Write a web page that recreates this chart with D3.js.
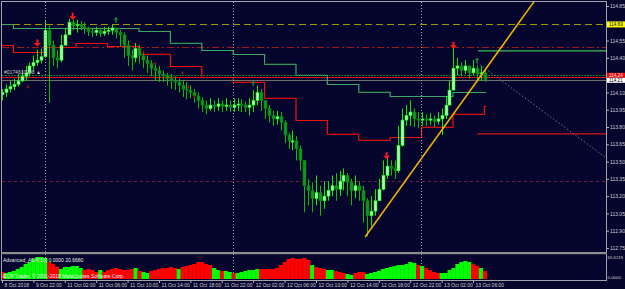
<!DOCTYPE html>
<html>
<head>
<meta charset="utf-8">
<script src="https://cdn.jsdelivr.net/npm/d3@7"></script>
<style>
  html, body { margin: 0; padding: 0; background: #05052e; }
  svg { display: block; }
  text { font-family: "Liberation Sans", Arial, sans-serif; }
</style>
</head>
<body>
<div id="app"></div>
<script>
const W = 625, H = 289

// ---- data ----
const timeLabels = ['8 Oct 2018', '9 Oct 22:00', '11 Oct 02:00', '11 Oct 06:00', '11 Oct 10:00', '11 Oct 14:00',
  '11 Oct 18:00', '11 Oct 22:00', '12 Oct 02:00', '12 Oct 06:00', '12 Oct 10:00', '12 Oct 14:00',
  '12 Oct 18:00', '12 Oct 22:00', '13 Oct 02:00', '13 Oct 06:00']
const timeTickBars = [0, 8, 16, 24, 32, 40, 48, 56, 64, 72, 80, 88, 96, 104, 112, 120]
const priceTicks = [114.85, 114.55, 114.40, 114.10, 113.95, 113.80, 113.65, 113.50, 113.35, 113.20, 113.05, 112.90, 112.75]
const daySeparators = [10.85, 58.85, 106.85]

const firstOpen = 114.08
const closes = [114.10,114.13,114.15,114.17,114.20,114.24,114.27,114.33,114.36,114.38,
  114.41,114.64,114.51,114.40,114.38,114.51,114.60,114.71,114.68,114.69,
  114.67,114.66,114.63,114.62,114.64,114.61,114.63,114.64,114.66,114.62,
  114.60,114.51,114.42,114.40,114.48,114.42,114.38,114.35,114.31,114.29,
  114.26,114.25,114.22,114.20,114.19,114.16,114.13,114.12,114.10,114.07,
  114.03,113.99,113.96,113.99,113.98,114.00,113.98,113.99,113.97,113.99,
  114.00,113.99,113.97,113.99,114.03,114.10,114.03,113.96,113.90,113.87,
  113.89,113.84,113.73,113.68,113.68,113.61,113.51,113.29,113.25,113.18,
  113.23,113.16,113.20,113.25,113.29,113.26,113.33,113.38,113.32,113.25,
  113.29,113.25,113.16,113.03,113.07,113.16,113.26,113.38,113.46,113.44,
  113.42,113.64,113.86,113.90,113.93,113.87,113.86,113.87,113.86,113.87,
  113.85,113.87,113.90,113.99,114.12,114.31,114.33,114.29,114.33,114.27,
  114.31,114.26,114.27,114.21]
const highs = [114.13,114.17,114.20,114.22,114.26,114.29,114.33,114.36,114.42,114.47,
  114.48,114.73,114.68,114.55,114.47,114.60,114.66,114.74,114.73,114.73,
  114.72,114.71,114.67,114.66,114.67,114.66,114.67,114.67,114.69,114.66,
  114.64,114.62,114.55,114.47,114.53,114.51,114.45,114.42,114.38,114.35,
  114.33,114.29,114.27,114.26,114.24,114.22,114.20,114.19,114.16,114.13,
  114.10,114.06,114.03,114.05,114.03,114.05,114.03,114.05,114.03,114.05,
  114.05,114.04,114.02,114.05,114.12,114.16,114.13,114.03,113.99,113.94,
  113.94,113.93,113.86,113.75,113.77,113.72,113.64,113.51,113.35,113.32,
  113.38,113.29,113.33,113.33,113.38,113.40,113.42,113.44,113.40,113.35,
  113.38,113.33,113.29,113.18,113.20,113.26,113.35,113.51,113.53,113.51,
  113.51,113.81,113.96,113.99,114.03,113.96,113.93,113.93,113.91,113.92,
  113.90,113.93,113.96,114.07,114.20,114.49,114.40,114.36,114.38,114.33,
  114.38,114.34,114.33,114.31]
const lows = [114.03,114.06,114.10,114.12,114.15,114.19,114.20,114.24,114.29,114.33,
  114.35,114.40,114.01,114.33,114.31,114.36,114.51,114.60,114.64,114.62,
  114.64,114.61,114.59,114.58,114.59,114.58,114.59,114.60,114.60,114.57,
  114.50,114.40,114.33,114.29,114.36,114.35,114.31,114.27,114.24,114.20,
  114.19,114.19,114.16,114.13,114.12,114.10,114.06,114.04,114.05,114.01,
  113.96,113.93,113.91,113.94,113.93,113.94,113.93,113.94,113.93,113.93,
  113.94,113.93,113.93,113.90,113.93,113.99,113.94,113.87,113.84,113.81,
  113.82,113.77,113.66,113.61,113.60,113.51,113.42,113.06,113.12,113.06,
  113.12,113.03,113.09,113.16,113.20,113.16,113.20,113.25,113.20,113.12,
  113.18,113.16,112.97,112.85,112.94,113.03,113.16,113.25,113.35,113.38,
  113.35,113.40,113.63,113.81,113.81,113.80,113.79,113.81,113.81,113.82,
  113.80,113.82,113.73,113.87,113.99,114.12,114.25,114.24,114.26,114.22,
  114.25,114.19,114.20,114.19]

// H4 step indicator blocks
const blockStarts = [-1, 2.9, 10.9, 18.9, 26.9, 34.9, 42.9, 50.9, 58.9, 66.9, 74.9, 82.9, 90.9, 98.9, 106.9, 114.9, 122.9]
const blockLast = 123.4
const greenSteps = [114.69, 114.66, 114.66, 114.66, 114.66, 114.63, 114.53, 114.47, 114.43, 114.35, 114.25, 114.17, 114.10, 114.07, 114.07, 114.10, 114.10]
const redSteps = [114.51, 114.45, 114.49, 114.53, 114.50, 114.43, 114.33, 114.23, 114.19, 114.05, 113.86, 113.74, 113.69, 113.71, 113.80, 113.91, 113.98]
const greenDarkBlocks = [6, 9, 10, 12]
const redDarkBlocks = [5, 8, 9, 11, 12, 14, 15]

// horizontal levels
const yellowLevel = 114.69
const redDashLevel = 114.49
const lowDashLevel = 113.33
const redLevel = 114.235
const greenDotLevel = 114.25
const bidLevel = 114.21

// projected lines
const futureGreen = [121.3, 154, 114.46]
const futureRed = [121.1, 154, 113.74]
const trendBars = [92.5, 135.8]
const trendPrices = [112.845, 114.90]
const projBars = [121, 153.6]
const projPrices = [114.36, 113.54]

// signals
const sellBars = [9, 18, 98, 115]
const sellPrices = [114.53, 114.76, 113.55, 114.51]
const buyBars = [29, 64, 121]
const buyPrices = [114.73, 114.18, 114.38]
const dotBars = [6.6, 36, 39, 46, 47.5, 49]
const dotPrices = [114.15, 114.45, 114.35, 114.27, 114.15, 114.06]

// Advanced_ADX histogram
const adxValues = [20.9,17.9,20.9,23.9,29.8,35.8,44.7,50.7,59.6,65.6,
  65.6,62.6,50.7,44.7,35.8,29.8,35.8,35.8,38.8,38.8,
  32.8,26.8,29.8,26.8,20.9,26.8,20.9,26.8,29.8,32.8,
  29.8,26.8,26.8,29.8,32.8,23.9,20.9,17.9,23.9,26.8,
  29.8,32.8,32.8,35.8,32.8,29.8,35.8,38.8,41.7,44.7,
  50.7,50.7,44.7,41.7,32.8,26.8,23.9,23.9,20.9,17.9,
  17.9,20.9,23.9,26.8,26.8,29.8,29.8,29.8,29.8,29.8,
  32.8,41.7,50.7,59.6,62.6,59.6,59.6,62.6,56.7,41.7,
  35.8,32.8,29.8,26.8,26.8,23.9,20.9,17.9,14.9,11.9,
  17.9,20.9,20.9,14.9,17.9,20.9,23.9,29.8,32.8,35.8,
  38.8,41.7,41.7,44.7,50.7,47.7,41.7,38.8,32.8,26.8,
  20.9,17.9,17.9,17.9,26.8,32.8,44.7,50.7,53.7,50.7,
  44.7,38.8,32.8,23.9]
const adxGreen = [0,1,1,1,1,1,1,1,1,1,
  1,1,0,0,0,1,1,1,1,1,
  1,0,0,0,0,1,0,0,0,0,
  0,0,0,0,1,0,1,1,0,0,
  0,0,0,0,0,1,0,0,0,0,
  0,0,0,0,1,1,0,1,1,0,
  1,1,1,1,1,1,0,0,0,0,
  0,0,0,0,0,0,0,0,0,1,
  0,0,0,1,1,0,0,0,1,1,
  0,0,0,1,1,1,1,1,1,1,
  1,1,1,1,1,1,0,1,0,0,
  0,0,1,1,1,1,1,1,1,1,
  0,0,1,0]
const adxMax = 65.6119

// ---- layout ----
const plotLeft = 2, plotRight = 606
const mainTop = 2, mainBottom = 251
const subTop = 255, subBottom = 279

const x = d3.scaleLinear().domain([0, 8]).range([2, 33.4])
const y = d3.scaleLinear().domain([112.75, 114.85]).range([248, 6])
const ay = d3.scaleLinear().domain([0, adxMax]).range([subBottom, 257])
const step = x(1) - x(0)

const svg = d3.select('#app').append('svg')
  .attr('width', W)
  .attr('height', H)

svg.append('rect').attr('width', W).attr('height', H).attr('fill', '#05052e')

const defs = svg.append('defs')
defs.append('clipPath').attr('id', 'main-clip')
  .append('rect').attr('x', plotLeft).attr('y', mainTop)
  .attr('width', plotRight - plotLeft).attr('height', mainBottom - mainTop)
defs.append('clipPath').attr('id', 'sub-clip')
  .append('rect').attr('x', plotLeft).attr('y', subTop)
  .attr('width', plotRight - plotLeft).attr('height', subBottom - subTop + 1)

const main = svg.append('g').attr('clip-path', 'url(#main-clip)')

const hLine = (price, color, dash, width = 1) => {
  main.append('line')
    .attr('x1', plotLeft).attr('x2', plotRight)
    .attr('y1', Math.round(y(price)) + 0.5).attr('y2', Math.round(y(price)) + 0.5)
    .attr('stroke', color).attr('stroke-width', width)
    .attr('stroke-dasharray', dash)
}

hLine(yellowLevel, '#9c9c00', '7,4')
hLine(redDashLevel, '#a01818', '7,3,2,3')
hLine(lowDashLevel, '#6e2236', '3,3')
hLine(greenDotLevel, '#1e7a2e', '2,1', 1.2)
hLine(redLevel, '#e01010', null)
hLine(bidLevel, '#6f6f6f', null)

// day separators (run through both panels)
svg.append('g').selectAll('line')
  .data(daySeparators)
  .enter()
  .append('line')
  .attr('x1', d => Math.round(x(d)) + 0.5).attr('x2', d => Math.round(x(d)) + 0.5)
  .attr('y1', mainTop).attr('y2', subBottom)
  .attr('stroke', '#9a9a9a').attr('stroke-width', 1)
  .attr('stroke-dasharray', '1,2')

// step lines
const stepPoints = (values, blocks) => {
  const pts = []
  blocks.forEach(b => {
    const end = b + 1 < blockStarts.length ? blockStarts[b + 1] : blockLast
    pts.push([blockStarts[b], values[b]], [end, values[b]])
  })
  return pts
}
const stepLine = d3.line().x(d => x(d[0])).y(d => Math.round(y(d[1])) + 0.5)
const allBlocks = d3.range(blockStarts.length)

main.append('path')
  .attr('d', stepLine(stepPoints(greenSteps, allBlocks)))
  .attr('fill', 'none').attr('stroke', '#3aa865').attr('stroke-width', 1.2)
main.append('path')
  .attr('d', stepLine(stepPoints(redSteps, allBlocks)))
  .attr('fill', 'none').attr('stroke', '#ee1010').attr('stroke-width', 1.2)

greenDarkBlocks.forEach(b => {
  main.append('path')
    .attr('d', stepLine(stepPoints(greenSteps, [b])))
    .attr('transform', 'translate(0,-0.8)')
    .attr('fill', 'none').attr('stroke', '#1a5c26').attr('stroke-width', 1.6)
    .attr('stroke-dasharray', '1,1')
})
redDarkBlocks.forEach(b => {
  main.append('path')
    .attr('d', stepLine(stepPoints(redSteps, [b])))
    .attr('transform', 'translate(0,-0.8)')
    .attr('fill', 'none').attr('stroke', '#7c0c12').attr('stroke-width', 1.6)
    .attr('stroke-dasharray', '1,1')
})

// projected flat lines
main.append('line')
  .attr('x1', x(futureGreen[0])).attr('x2', x(futureGreen[1]))
  .attr('y1', y(futureGreen[2])).attr('y2', y(futureGreen[2]))
  .attr('stroke', '#3fbf55').attr('stroke-width', 1.2)
main.append('line')
  .attr('x1', x(futureRed[0])).attr('x2', x(futureRed[1]))
  .attr('y1', y(futureRed[2])).attr('y2', y(futureRed[2]))
  .attr('stroke', '#d81818').attr('stroke-width', 1.2)

// candles
const candles = closes.map((c, i) => {
  const o = i === 0 ? firstOpen : closes[i - 1]
  return { i, o, c, h: Math.max(highs[i], o, c), l: Math.min(lows[i], o, c) }
})

const cg = main.append('g')
cg.selectAll('line')
  .data(candles)
  .enter()
  .append('line')
  .attr('x1', d => Math.round(x(d.i)) + 0.5).attr('x2', d => Math.round(x(d.i)) + 0.5)
  .attr('y1', d => y(d.h)).attr('y2', d => y(d.l))
  .attr('stroke', d => d.c >= d.o ? '#00f000' : '#00c000')
  .attr('stroke-width', 1)
cg.selectAll('rect')
  .data(candles)
  .enter()
  .append('rect')
  .attr('x', d => Math.round(x(d.i)) - 1)
  .attr('width', 3)
  .attr('y', d => y(Math.max(d.o, d.c)))
  .attr('height', d => Math.max(1.2, Math.abs(y(d.o) - y(d.c))))
  .attr('fill', d => d.c >= d.o ? '#a6ffa6' : '#0e9a1c')
  .attr('stroke', d => d.c >= d.o ? '#14f014' : '#0a7a14')
  .attr('stroke-width', 0.6)

// projection (dotted gray) and trend line
main.append('line')
  .attr('x1', x(projBars[0])).attr('y1', y(projPrices[0]))
  .attr('x2', x(projBars[1])).attr('y2', y(projPrices[1]))
  .attr('stroke', '#6d7a6d').attr('stroke-width', 1)
  .attr('stroke-dasharray', '1.5,2')
main.append('line')
  .attr('x1', x(trendBars[0])).attr('y1', y(trendPrices[0]))
  .attr('x2', x(trendBars[1])).attr('y2', y(trendPrices[1]))
  .attr('stroke', '#f2b400').attr('stroke-width', 1.5)

// signal arrows
const downArrow = 'M-1,-3.5 L1,-3.5 L1,0 L3.5,0 L0,3.5 L-3.5,0 L-1,0 Z'
const upArrow = 'M0,-3 L2.5,0 L0.8,0 L0.8,3 L-0.8,3 L-0.8,0 L-2.5,0 Z'
main.selectAll('.sell')
  .data(sellBars)
  .enter()
  .append('path')
  .attr('d', downArrow)
  .attr('transform', (d, i) => `translate(${x(d)},${y(sellPrices[i])})`)
  .attr('fill', '#ff1a1a')
main.selectAll('.buy')
  .data(buyBars)
  .enter()
  .append('path')
  .attr('d', upArrow)
  .attr('transform', (d, i) => `translate(${x(d)},${y(buyPrices[i])})`)
  .attr('fill', '#1f7a2c')
main.selectAll('.dot')
  .data(dotBars)
  .enter()
  .append('path')
  .attr('d', downArrow)
  .attr('transform', (d, i) => `translate(${x(d)},${y(dotPrices[i])}) scale(0.5)`)
  .attr('fill', '#a81414')

main.append('text')
  .attr('x', 4).attr('y', 74)
  .attr('font-size', 5).attr('fill', '#c8c8c8')
  .text('#0174633208 ▲')

// ---- indicator panel ----
const sub = svg.append('g').attr('clip-path', 'url(#sub-clip)')
sub.selectAll('rect')
  .data(adxValues)
  .enter()
  .append('rect')
  .attr('x', (d, i) => x(i) - step / 2)
  .attr('width', step + 0.3)
  .attr('y', d => ay(d))
  .attr('height', d => subBottom - ay(d))
  .attr('fill', (d, i) => adxGreen[i] ? '#00ff00' : '#ff0000')

svg.append('text')
  .attr('x', 3).attr('y', 261.5)
  .attr('font-size', 5).attr('fill', '#e6e6e6')
  .text('Advanced_ADX(13) 0.0000 20.6680')
svg.append('text')
  .attr('x', 3).attr('y', 277.5)
  .attr('font-size', 5).attr('fill', '#f0f0f0')
  .text('ECN Trader, © 2001-2018 MetaQuotes Software Corp.')

// ---- frame ----
const frame = svg.append('g').attr('stroke', '#a2a2aa').attr('stroke-width', 1)
frame.append('line').attr('x1', plotLeft).attr('x2', plotRight).attr('y1', 1.5).attr('y2', 1.5)
frame.append('line').attr('x1', 1.5).attr('x2', 1.5).attr('y1', 1).attr('y2', subBottom + 1)
frame.append('line').attr('x1', plotRight + 0.5).attr('x2', plotRight + 0.5).attr('y1', 1).attr('y2', subBottom + 1)
svg.append('rect')
  .attr('x', 1).attr('y', 252).attr('width', plotRight)
  .attr('height', 2.2).attr('fill', '#8e8e8e')

// ---- axes ----
const axisX = d3.axisBottom(x)
  .tickValues(timeTickBars)
  .tickFormat((d, i) => timeLabels[i])
  .tickSize(3)
  .tickSizeOuter(0)

const gx = svg.append('g')
  .attr('transform', `translate(0, ${subBottom + 1})`)
  .call(axisX)
gx.select('.domain').attr('stroke', '#a2a2aa').attr('d', `M1,0.5H${plotRight + 1}`)
gx.selectAll('.tick line').attr('stroke', '#b0b0b0')
gx.selectAll('.tick text')
  .attr('fill', '#cfcfcf')
  .attr('font-size', 5)
  .attr('font-family', '"Liberation Sans", Arial, sans-serif')
  .attr('text-anchor', 'start')
  .attr('x', 2)
  .attr('y', 3)
  .attr('dy', '0.75em')

const axisY = d3.axisRight(y)
  .tickValues(priceTicks)
  .tickFormat(d3.format('.2f'))
  .tickSize(3)
  .tickSizeOuter(0)

const gy = svg.append('g')
  .attr('transform', `translate(${plotRight}, 0)`)
  .call(axisY)
gy.select('.domain').remove()
gy.selectAll('.tick line').attr('stroke', '#b0b0b0')
gy.selectAll('.tick text')
  .attr('fill', '#cfcfcf')
  .attr('font-size', 5)
  .attr('font-family', '"Liberation Sans", Arial, sans-serif')
  .attr('x', 4)

// price labels on the right
const priceTag = (price, bg, fg, top, h) => {
  svg.append('rect')
    .attr('x', 607).attr('y', top)
    .attr('width', 18).attr('height', h)
    .attr('fill', bg)
  svg.append('text')
    .attr('x', 609).attr('y', top + h / 2)
    .attr('dy', '0.35em')
    .attr('font-size', 4.6).attr('fill', fg)
    .text(d3.format('.2f')(price))
}
priceTag(yellowLevel, '#ffff00', '#000000', y(yellowLevel) - 3, 6)
priceTag(114.24, '#ff0000', '#ffffff', 72.8, 5)
priceTag(bidLevel, '#ffffff', '#000000', 77.8, 5)

// indicator scale labels
svg.append('text')
  .attr('x', 607.5).attr('y', 257.5).attr('dy', '0.35em')
  .attr('font-size', 4.4).attr('fill', '#cfcfcf')
  .text(d3.format('.4f')(adxMax))
svg.append('text')
  .attr('x', 607.5).attr('y', 277).attr('dy', '0.35em')
  .attr('font-size', 4.4).attr('fill', '#cfcfcf')
  .text('0.0000')
</script>
</body>
</html>
